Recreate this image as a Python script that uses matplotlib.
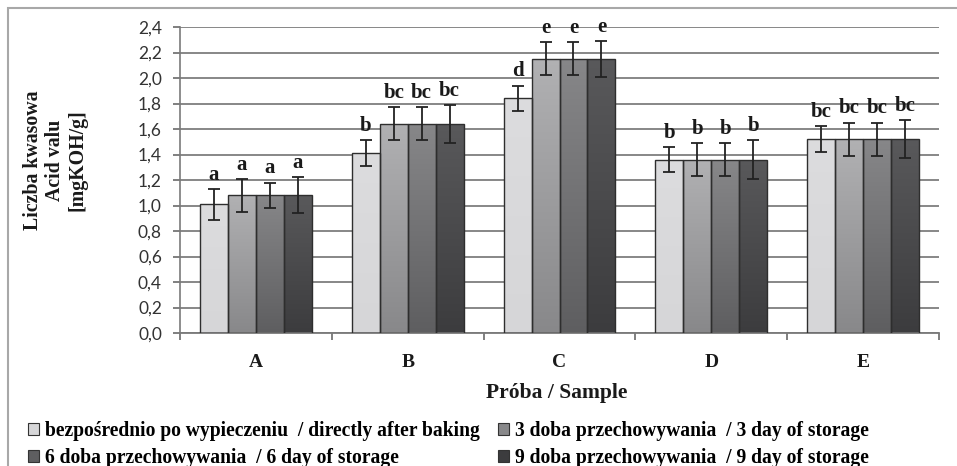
import numpy as np
import matplotlib
matplotlib.use('Agg')
import matplotlib.pyplot as plt
from matplotlib.colors import LinearSegmentedColormap
from matplotlib.patches import Patch, Rectangle
from matplotlib.ticker import FuncFormatter, FixedLocator

# acid value of bread samples over storage time
samples = ['A', 'B', 'C', 'D', 'E']
series_names = ['bezpośrednio po wypieczeniu  / directly after baking',
                '3 doba przechowywania  / 3 day of storage',
                '6 doba przechowywania  / 6 day of storage',
                '9 doba przechowywania  / 9 day of storage']

day0 = [1.01, 1.41, 1.84, 1.36, 1.52]
day3 = [1.08, 1.64, 2.15, 1.36, 1.52]
day6 = [1.08, 1.64, 2.15, 1.36, 1.52]
day9 = [1.08, 1.64, 2.15, 1.36, 1.52]

err0 = [0.12, 0.10, 0.10, 0.10, 0.10]
err3 = [0.13, 0.13, 0.13, 0.13, 0.13]
err6 = [0.10, 0.13, 0.13, 0.13, 0.13]
err9 = [0.14, 0.15, 0.14, 0.15, 0.15]

let0 = ['a', 'b', 'd', 'b', 'bc']
let3 = ['a', 'bc', 'e', 'b', 'bc']
let6 = ['a', 'bc', 'e', 'b', 'bc']
let9 = ['a', 'bc', 'e', 'b', 'bc']

values = [day0, day3, day6, day9]
errors = [err0, err3, err6, err9]
letters = [let0, let3, let6, let9]

# top / bottom shade of each series
shades = [('#dcdcde', '#d6d6d8'),
          ('#b1b1b3', '#88888a'),
          ('#878789', '#5e5e60'),
          ('#59595b', '#3c3c3e')]

serif = 'Liberation Serif'

fig = plt.figure(figsize=(9.57, 4.66), dpi=100)
ax = fig.add_axes([180 / 957, 1 - 333 / 466, 759 / 957, 306 / 466])

x = np.arange(len(samples))
w = 0.184
grad = np.linspace(0, 1, 256).reshape(-1, 1)

for i in range(4):
    pos = x + (i - 1.5) * w
    bars = ax.bar(pos, values[i], w, facecolor='none', edgecolor='#2e2e2e',
                  linewidth=1.0, zorder=3)
    cmap = LinearSegmentedColormap.from_list('s%d' % i, [shades[i][1], shades[i][0]])
    for p in bars:
        x0, y0 = p.get_x(), p.get_y()
        im = ax.imshow(grad, cmap=cmap, origin='lower', aspect='auto',
                       extent=[x0, x0 + p.get_width(), y0, y0 + p.get_height()],
                       zorder=2.5, interpolation='bilinear')
        im.set_clip_path(p)
    ax.errorbar(pos, values[i], yerr=errors[i], fmt='none', ecolor='#222222',
                elinewidth=1.3, capsize=4, capthick=1.3, zorder=4)
    for xp, v, e, t in zip(pos, values[i], errors[i], letters[i]):
        ax.annotate(t, (xp, v + e), xytext=(0, 3), textcoords='offset points',
                    ha='center', va='bottom', fontsize=15, fontweight='bold',
                    family=serif, color='#1a1a1a')

ax.set_xlim(-0.5, len(samples) - 0.5)
ax.set_ylim(0, 2.4)
ax.set_yticks(np.arange(0, 2.41, 0.2))
ax.yaxis.set_major_formatter(FuncFormatter(lambda v, _: ('%.1f' % v).replace('.', ',')))
ax.yaxis.grid(True, color='#7e7e7e', linewidth=1.3)
ax.set_axisbelow(True)

ax.set_xticks(x)
ax.set_xticklabels(samples, fontsize=14, fontweight='bold', family=serif)
ax.xaxis.set_minor_locator(FixedLocator(np.arange(-0.5, len(samples), 1.0)))
ax.tick_params(axis='x', which='major', length=0, pad=15, colors='#1a1a1a')
ax.tick_params(axis='x', which='minor', length=5, width=1.2, color='#6a6a6a')
ax.tick_params(axis='y', length=5, width=1.2, color='#6a6a6a', labelsize=12.5,
               labelcolor='#333333', pad=8)
for lbl in ax.get_yticklabels():
    lbl.set_family('Lato')

for s in ['top', 'right']:
    ax.spines[s].set_visible(False)
ax.spines['left'].set_color('#7a7a7a')
ax.spines['left'].set_linewidth(1.2)
ax.spines['bottom'].set_color('#7a7a7a')
ax.spines['bottom'].set_linewidth(1.3)

ax.set_xlabel('Próba / Sample', fontsize=15.5, fontweight='bold', family=serif,
              color='#1a1a1a')
ax.xaxis.set_label_coords(0.496, -0.165)

fig.text(55 / 957, 1 - 160 / 466, 'Liczba kwasowa\nAcid valu\n[mgKOH/g]',
         rotation=90, ha='center', va='center', fontsize=14.3, fontweight='bold',
         family=serif, linespacing=1.15, color='#1a1a1a')

handles = [Patch(facecolor=shades[i][1], edgecolor='#333333', linewidth=0.8)
           for i in range(4)]
order = [0, 2, 1, 3]
fig.legend([handles[i] for i in order], [series_names[i] for i in order],
           ncol=2, loc='upper left', bbox_to_anchor=(28 / 957, 1 - 421 / 466),
           frameon=False, handlelength=0.55, handleheight=0.55, handletextpad=0.3,
           columnspacing=0.95, labelspacing=0.35, borderaxespad=0, borderpad=0,
           prop={'family': serif, 'weight': 'bold', 'size': 14.1})

# light outer frame around the whole chart
fig.add_artist(Rectangle((8 / 957, -0.1), 1.2, 1 - 8 / 466 + 0.1,
                         transform=fig.transFigure, fill=False,
                         edgecolor='#a8a8a8', linewidth=1.5))

fig.savefig('out.png', dpi=100)
